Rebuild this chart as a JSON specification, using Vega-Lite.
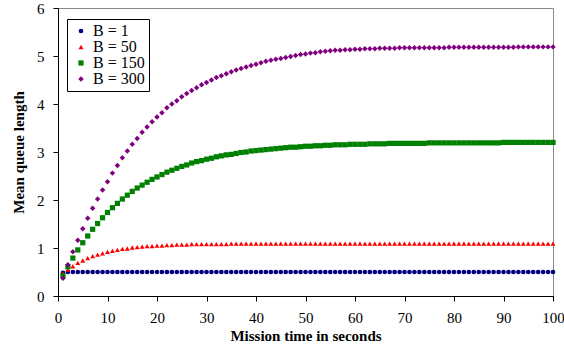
{
"$schema": "https://vega.github.io/schema/vega-lite/v6.json",
"autosize": {"type": "none"},
"padding": {"left": 58, "top": 8, "right": 11, "bottom": 55},
"width": 495,
"height": 288,
"background": "white",
"config": {"view": {"stroke": "#8a8a8a", "strokeWidth": 1}, "font": "Liberation Serif"},
"data": {"values": [
{"t":1,"B":"B = 1","q":0.48},{"t":2,"B":"B = 1","q":0.5},{"t":3,"B":"B = 1","q":0.5},{"t":4,"B":"B = 1","q":0.5},{"t":5,"B":"B = 1","q":0.5},{"t":6,"B":"B = 1","q":0.5},{"t":7,"B":"B = 1","q":0.5},{"t":8,"B":"B = 1","q":0.5},{"t":9,"B":"B = 1","q":0.5},{"t":10,"B":"B = 1","q":0.5},
{"t":11,"B":"B = 1","q":0.5},{"t":12,"B":"B = 1","q":0.5},{"t":13,"B":"B = 1","q":0.5},{"t":14,"B":"B = 1","q":0.5},{"t":15,"B":"B = 1","q":0.5},{"t":16,"B":"B = 1","q":0.5},{"t":17,"B":"B = 1","q":0.5},{"t":18,"B":"B = 1","q":0.5},{"t":19,"B":"B = 1","q":0.5},{"t":20,"B":"B = 1","q":0.5},
{"t":21,"B":"B = 1","q":0.5},{"t":22,"B":"B = 1","q":0.5},{"t":23,"B":"B = 1","q":0.5},{"t":24,"B":"B = 1","q":0.5},{"t":25,"B":"B = 1","q":0.5},{"t":26,"B":"B = 1","q":0.5},{"t":27,"B":"B = 1","q":0.5},{"t":28,"B":"B = 1","q":0.5},{"t":29,"B":"B = 1","q":0.5},{"t":30,"B":"B = 1","q":0.5},
{"t":31,"B":"B = 1","q":0.5},{"t":32,"B":"B = 1","q":0.5},{"t":33,"B":"B = 1","q":0.5},{"t":34,"B":"B = 1","q":0.5},{"t":35,"B":"B = 1","q":0.5},{"t":36,"B":"B = 1","q":0.5},{"t":37,"B":"B = 1","q":0.5},{"t":38,"B":"B = 1","q":0.5},{"t":39,"B":"B = 1","q":0.5},{"t":40,"B":"B = 1","q":0.5},
{"t":41,"B":"B = 1","q":0.5},{"t":42,"B":"B = 1","q":0.5},{"t":43,"B":"B = 1","q":0.5},{"t":44,"B":"B = 1","q":0.5},{"t":45,"B":"B = 1","q":0.5},{"t":46,"B":"B = 1","q":0.5},{"t":47,"B":"B = 1","q":0.5},{"t":48,"B":"B = 1","q":0.5},{"t":49,"B":"B = 1","q":0.5},{"t":50,"B":"B = 1","q":0.5},
{"t":51,"B":"B = 1","q":0.5},{"t":52,"B":"B = 1","q":0.5},{"t":53,"B":"B = 1","q":0.5},{"t":54,"B":"B = 1","q":0.5},{"t":55,"B":"B = 1","q":0.5},{"t":56,"B":"B = 1","q":0.5},{"t":57,"B":"B = 1","q":0.5},{"t":58,"B":"B = 1","q":0.5},{"t":59,"B":"B = 1","q":0.5},{"t":60,"B":"B = 1","q":0.5},
{"t":61,"B":"B = 1","q":0.5},{"t":62,"B":"B = 1","q":0.5},{"t":63,"B":"B = 1","q":0.5},{"t":64,"B":"B = 1","q":0.5},{"t":65,"B":"B = 1","q":0.5},{"t":66,"B":"B = 1","q":0.5},{"t":67,"B":"B = 1","q":0.5},{"t":68,"B":"B = 1","q":0.5},{"t":69,"B":"B = 1","q":0.5},{"t":70,"B":"B = 1","q":0.5},
{"t":71,"B":"B = 1","q":0.5},{"t":72,"B":"B = 1","q":0.5},{"t":73,"B":"B = 1","q":0.5},{"t":74,"B":"B = 1","q":0.5},{"t":75,"B":"B = 1","q":0.5},{"t":76,"B":"B = 1","q":0.5},{"t":77,"B":"B = 1","q":0.5},{"t":78,"B":"B = 1","q":0.5},{"t":79,"B":"B = 1","q":0.5},{"t":80,"B":"B = 1","q":0.5},
{"t":81,"B":"B = 1","q":0.5},{"t":82,"B":"B = 1","q":0.5},{"t":83,"B":"B = 1","q":0.5},{"t":84,"B":"B = 1","q":0.5},{"t":85,"B":"B = 1","q":0.5},{"t":86,"B":"B = 1","q":0.5},{"t":87,"B":"B = 1","q":0.5},{"t":88,"B":"B = 1","q":0.5},{"t":89,"B":"B = 1","q":0.5},{"t":90,"B":"B = 1","q":0.5},
{"t":91,"B":"B = 1","q":0.5},{"t":92,"B":"B = 1","q":0.5},{"t":93,"B":"B = 1","q":0.5},{"t":94,"B":"B = 1","q":0.5},{"t":95,"B":"B = 1","q":0.5},{"t":96,"B":"B = 1","q":0.5},{"t":97,"B":"B = 1","q":0.5},{"t":98,"B":"B = 1","q":0.5},{"t":99,"B":"B = 1","q":0.5},{"t":100,"B":"B = 1","q":0.5},
{"t":1,"B":"B = 50","q":0.47},{"t":2,"B":"B = 50","q":0.55},{"t":3,"B":"B = 50","q":0.62},{"t":4,"B":"B = 50","q":0.69},{"t":5,"B":"B = 50","q":0.74},{"t":6,"B":"B = 50","q":0.79},{"t":7,"B":"B = 50","q":0.83},{"t":8,"B":"B = 50","q":0.86},{"t":9,"B":"B = 50","q":0.89},{"t":10,"B":"B = 50","q":0.92},
{"t":11,"B":"B = 50","q":0.94},{"t":12,"B":"B = 50","q":0.96},{"t":13,"B":"B = 50","q":0.98},{"t":14,"B":"B = 50","q":0.99},{"t":15,"B":"B = 50","q":1.01},{"t":16,"B":"B = 50","q":1.02},{"t":17,"B":"B = 50","q":1.03},{"t":18,"B":"B = 50","q":1.04},{"t":19,"B":"B = 50","q":1.04},{"t":20,"B":"B = 50","q":1.05},
{"t":21,"B":"B = 50","q":1.05},{"t":22,"B":"B = 50","q":1.06},{"t":23,"B":"B = 50","q":1.06},{"t":24,"B":"B = 50","q":1.07},{"t":25,"B":"B = 50","q":1.07},{"t":26,"B":"B = 50","q":1.07},{"t":27,"B":"B = 50","q":1.08},{"t":28,"B":"B = 50","q":1.08},{"t":29,"B":"B = 50","q":1.08},{"t":30,"B":"B = 50","q":1.08},
{"t":31,"B":"B = 50","q":1.08},{"t":32,"B":"B = 50","q":1.08},{"t":33,"B":"B = 50","q":1.08},{"t":34,"B":"B = 50","q":1.08},{"t":35,"B":"B = 50","q":1.09},{"t":36,"B":"B = 50","q":1.09},{"t":37,"B":"B = 50","q":1.09},{"t":38,"B":"B = 50","q":1.09},{"t":39,"B":"B = 50","q":1.09},{"t":40,"B":"B = 50","q":1.09},
{"t":41,"B":"B = 50","q":1.09},{"t":42,"B":"B = 50","q":1.09},{"t":43,"B":"B = 50","q":1.09},{"t":44,"B":"B = 50","q":1.09},{"t":45,"B":"B = 50","q":1.09},{"t":46,"B":"B = 50","q":1.09},{"t":47,"B":"B = 50","q":1.09},{"t":48,"B":"B = 50","q":1.09},{"t":49,"B":"B = 50","q":1.09},{"t":50,"B":"B = 50","q":1.09},
{"t":51,"B":"B = 50","q":1.09},{"t":52,"B":"B = 50","q":1.09},{"t":53,"B":"B = 50","q":1.09},{"t":54,"B":"B = 50","q":1.09},{"t":55,"B":"B = 50","q":1.09},{"t":56,"B":"B = 50","q":1.09},{"t":57,"B":"B = 50","q":1.09},{"t":58,"B":"B = 50","q":1.09},{"t":59,"B":"B = 50","q":1.09},{"t":60,"B":"B = 50","q":1.09},
{"t":61,"B":"B = 50","q":1.09},{"t":62,"B":"B = 50","q":1.09},{"t":63,"B":"B = 50","q":1.09},{"t":64,"B":"B = 50","q":1.09},{"t":65,"B":"B = 50","q":1.09},{"t":66,"B":"B = 50","q":1.09},{"t":67,"B":"B = 50","q":1.09},{"t":68,"B":"B = 50","q":1.09},{"t":69,"B":"B = 50","q":1.09},{"t":70,"B":"B = 50","q":1.09},
{"t":71,"B":"B = 50","q":1.09},{"t":72,"B":"B = 50","q":1.09},{"t":73,"B":"B = 50","q":1.09},{"t":74,"B":"B = 50","q":1.09},{"t":75,"B":"B = 50","q":1.09},{"t":76,"B":"B = 50","q":1.09},{"t":77,"B":"B = 50","q":1.09},{"t":78,"B":"B = 50","q":1.09},{"t":79,"B":"B = 50","q":1.09},{"t":80,"B":"B = 50","q":1.09},
{"t":81,"B":"B = 50","q":1.09},{"t":82,"B":"B = 50","q":1.09},{"t":83,"B":"B = 50","q":1.09},{"t":84,"B":"B = 50","q":1.09},{"t":85,"B":"B = 50","q":1.09},{"t":86,"B":"B = 50","q":1.09},{"t":87,"B":"B = 50","q":1.09},{"t":88,"B":"B = 50","q":1.09},{"t":89,"B":"B = 50","q":1.09},{"t":90,"B":"B = 50","q":1.09},
{"t":91,"B":"B = 50","q":1.09},{"t":92,"B":"B = 50","q":1.09},{"t":93,"B":"B = 50","q":1.09},{"t":94,"B":"B = 50","q":1.09},{"t":95,"B":"B = 50","q":1.09},{"t":96,"B":"B = 50","q":1.09},{"t":97,"B":"B = 50","q":1.09},{"t":98,"B":"B = 50","q":1.09},{"t":99,"B":"B = 50","q":1.09},{"t":100,"B":"B = 50","q":1.09},
{"t":1,"B":"B = 150","q":0.42},{"t":2,"B":"B = 150","q":0.61},{"t":3,"B":"B = 150","q":0.79},{"t":4,"B":"B = 150","q":0.96},{"t":5,"B":"B = 150","q":1.11},{"t":6,"B":"B = 150","q":1.25},{"t":7,"B":"B = 150","q":1.39},{"t":8,"B":"B = 150","q":1.51},{"t":9,"B":"B = 150","q":1.63},{"t":10,"B":"B = 150","q":1.74},
{"t":11,"B":"B = 150","q":1.84},{"t":12,"B":"B = 150","q":1.93},{"t":13,"B":"B = 150","q":2.02},{"t":14,"B":"B = 150","q":2.10},{"t":15,"B":"B = 150","q":2.18},{"t":16,"B":"B = 150","q":2.25},{"t":17,"B":"B = 150","q":2.31},{"t":18,"B":"B = 150","q":2.37},{"t":19,"B":"B = 150","q":2.43},{"t":20,"B":"B = 150","q":2.48},
{"t":21,"B":"B = 150","q":2.53},{"t":22,"B":"B = 150","q":2.58},{"t":23,"B":"B = 150","q":2.62},{"t":24,"B":"B = 150","q":2.66},{"t":25,"B":"B = 150","q":2.70},{"t":26,"B":"B = 150","q":2.73},{"t":27,"B":"B = 150","q":2.77},{"t":28,"B":"B = 150","q":2.80},{"t":29,"B":"B = 150","q":2.82},{"t":30,"B":"B = 150","q":2.85},
{"t":31,"B":"B = 150","q":2.87},{"t":32,"B":"B = 150","q":2.90},{"t":33,"B":"B = 150","q":2.92},{"t":34,"B":"B = 150","q":2.94},{"t":35,"B":"B = 150","q":2.95},{"t":36,"B":"B = 150","q":2.97},{"t":37,"B":"B = 150","q":2.99},{"t":38,"B":"B = 150","q":3.00},{"t":39,"B":"B = 150","q":3.02},{"t":40,"B":"B = 150","q":3.03},
{"t":41,"B":"B = 150","q":3.04},{"t":42,"B":"B = 150","q":3.05},{"t":43,"B":"B = 150","q":3.06},{"t":44,"B":"B = 150","q":3.07},{"t":45,"B":"B = 150","q":3.08},{"t":46,"B":"B = 150","q":3.09},{"t":47,"B":"B = 150","q":3.10},{"t":48,"B":"B = 150","q":3.10},{"t":49,"B":"B = 150","q":3.11},{"t":50,"B":"B = 150","q":3.12},
{"t":51,"B":"B = 150","q":3.12},{"t":52,"B":"B = 150","q":3.13},{"t":53,"B":"B = 150","q":3.13},{"t":54,"B":"B = 150","q":3.14},{"t":55,"B":"B = 150","q":3.14},{"t":56,"B":"B = 150","q":3.15},{"t":57,"B":"B = 150","q":3.15},{"t":58,"B":"B = 150","q":3.15},{"t":59,"B":"B = 150","q":3.16},{"t":60,"B":"B = 150","q":3.16},
{"t":61,"B":"B = 150","q":3.16},{"t":62,"B":"B = 150","q":3.16},{"t":63,"B":"B = 150","q":3.17},{"t":64,"B":"B = 150","q":3.17},{"t":65,"B":"B = 150","q":3.17},{"t":66,"B":"B = 150","q":3.17},{"t":67,"B":"B = 150","q":3.18},{"t":68,"B":"B = 150","q":3.18},{"t":69,"B":"B = 150","q":3.18},{"t":70,"B":"B = 150","q":3.18},
{"t":71,"B":"B = 150","q":3.18},{"t":72,"B":"B = 150","q":3.18},{"t":73,"B":"B = 150","q":3.18},{"t":74,"B":"B = 150","q":3.18},{"t":75,"B":"B = 150","q":3.19},{"t":76,"B":"B = 150","q":3.19},{"t":77,"B":"B = 150","q":3.19},{"t":78,"B":"B = 150","q":3.19},{"t":79,"B":"B = 150","q":3.19},{"t":80,"B":"B = 150","q":3.19},
{"t":81,"B":"B = 150","q":3.19},{"t":82,"B":"B = 150","q":3.19},{"t":83,"B":"B = 150","q":3.19},{"t":84,"B":"B = 150","q":3.19},{"t":85,"B":"B = 150","q":3.19},{"t":86,"B":"B = 150","q":3.19},{"t":87,"B":"B = 150","q":3.19},{"t":88,"B":"B = 150","q":3.19},{"t":89,"B":"B = 150","q":3.19},{"t":90,"B":"B = 150","q":3.20},
{"t":91,"B":"B = 150","q":3.20},{"t":92,"B":"B = 150","q":3.20},{"t":93,"B":"B = 150","q":3.20},{"t":94,"B":"B = 150","q":3.20},{"t":95,"B":"B = 150","q":3.20},{"t":96,"B":"B = 150","q":3.20},{"t":97,"B":"B = 150","q":3.20},{"t":98,"B":"B = 150","q":3.20},{"t":99,"B":"B = 150","q":3.20},{"t":100,"B":"B = 150","q":3.20},
{"t":1,"B":"B = 300","q":0.37},{"t":2,"B":"B = 300","q":0.65},{"t":3,"B":"B = 300","q":0.92},{"t":4,"B":"B = 300","q":1.16},{"t":5,"B":"B = 300","q":1.40},{"t":6,"B":"B = 300","q":1.62},{"t":7,"B":"B = 300","q":1.83},{"t":8,"B":"B = 300","q":2.02},{"t":9,"B":"B = 300","q":2.21},{"t":10,"B":"B = 300","q":2.38},
{"t":11,"B":"B = 300","q":2.56},{"t":12,"B":"B = 300","q":2.72},{"t":13,"B":"B = 300","q":2.88},{"t":14,"B":"B = 300","q":3.02},{"t":15,"B":"B = 300","q":3.16},{"t":16,"B":"B = 300","q":3.28},{"t":17,"B":"B = 300","q":3.41},{"t":18,"B":"B = 300","q":3.52},{"t":19,"B":"B = 300","q":3.63},{"t":20,"B":"B = 300","q":3.73},
{"t":21,"B":"B = 300","q":3.82},{"t":22,"B":"B = 300","q":3.92},{"t":23,"B":"B = 300","q":4.00},{"t":24,"B":"B = 300","q":4.07},{"t":25,"B":"B = 300","q":4.15},{"t":26,"B":"B = 300","q":4.22},{"t":27,"B":"B = 300","q":4.28},{"t":28,"B":"B = 300","q":4.34},{"t":29,"B":"B = 300","q":4.40},{"t":30,"B":"B = 300","q":4.45},
{"t":31,"B":"B = 300","q":4.50},{"t":32,"B":"B = 300","q":4.55},{"t":33,"B":"B = 300","q":4.59},{"t":34,"B":"B = 300","q":4.63},{"t":35,"B":"B = 300","q":4.67},{"t":36,"B":"B = 300","q":4.71},{"t":37,"B":"B = 300","q":4.74},{"t":38,"B":"B = 300","q":4.77},{"t":39,"B":"B = 300","q":4.80},{"t":40,"B":"B = 300","q":4.83},
{"t":41,"B":"B = 300","q":4.86},{"t":42,"B":"B = 300","q":4.89},{"t":43,"B":"B = 300","q":4.91},{"t":44,"B":"B = 300","q":4.93},{"t":45,"B":"B = 300","q":4.95},{"t":46,"B":"B = 300","q":4.97},{"t":47,"B":"B = 300","q":4.99},{"t":48,"B":"B = 300","q":5.01},{"t":49,"B":"B = 300","q":5.03},{"t":50,"B":"B = 300","q":5.04},
{"t":51,"B":"B = 300","q":5.06},{"t":52,"B":"B = 300","q":5.07},{"t":53,"B":"B = 300","q":5.09},{"t":54,"B":"B = 300","q":5.10},{"t":55,"B":"B = 300","q":5.11},{"t":56,"B":"B = 300","q":5.12},{"t":57,"B":"B = 300","q":5.12},{"t":58,"B":"B = 300","q":5.13},{"t":59,"B":"B = 300","q":5.13},{"t":60,"B":"B = 300","q":5.14},
{"t":61,"B":"B = 300","q":5.14},{"t":62,"B":"B = 300","q":5.15},{"t":63,"B":"B = 300","q":5.15},{"t":64,"B":"B = 300","q":5.15},{"t":65,"B":"B = 300","q":5.16},{"t":66,"B":"B = 300","q":5.16},{"t":67,"B":"B = 300","q":5.16},{"t":68,"B":"B = 300","q":5.16},{"t":69,"B":"B = 300","q":5.17},{"t":70,"B":"B = 300","q":5.17},
{"t":71,"B":"B = 300","q":5.17},{"t":72,"B":"B = 300","q":5.17},{"t":73,"B":"B = 300","q":5.17},{"t":74,"B":"B = 300","q":5.17},{"t":75,"B":"B = 300","q":5.17},{"t":76,"B":"B = 300","q":5.17},{"t":77,"B":"B = 300","q":5.17},{"t":78,"B":"B = 300","q":5.17},{"t":79,"B":"B = 300","q":5.18},{"t":80,"B":"B = 300","q":5.18},
{"t":81,"B":"B = 300","q":5.18},{"t":82,"B":"B = 300","q":5.18},{"t":83,"B":"B = 300","q":5.18},{"t":84,"B":"B = 300","q":5.18},{"t":85,"B":"B = 300","q":5.18},{"t":86,"B":"B = 300","q":5.18},{"t":87,"B":"B = 300","q":5.18},{"t":88,"B":"B = 300","q":5.18},{"t":89,"B":"B = 300","q":5.18},{"t":90,"B":"B = 300","q":5.18},
{"t":91,"B":"B = 300","q":5.18},{"t":92,"B":"B = 300","q":5.18},{"t":93,"B":"B = 300","q":5.19},{"t":94,"B":"B = 300","q":5.19},{"t":95,"B":"B = 300","q":5.19},{"t":96,"B":"B = 300","q":5.19},{"t":97,"B":"B = 300","q":5.19},{"t":98,"B":"B = 300","q":5.19},{"t":99,"B":"B = 300","q":5.19},{"t":100,"B":"B = 300","q":5.19}
]},
"mark": {"type": "point", "filled": true, "opacity": 1},
"encoding": {
"x": {"field": "t", "type": "quantitative",
 "scale": {"domain": [0, 100], "nice": false, "zero": false},
 "axis": {"values": [0,10,20,30,40,50,60,70,80,90,100], "grid": false, "title": "Mission time in seconds",
  "domainColor": "black", "tickColor": "black", "tickSize": 5, "labelPadding": 9,
  "labelFont": "Liberation Serif", "labelFontSize": 15, "labelColor": "black", "labelFlush": false,
  "titleFont": "Liberation Serif", "titleFontSize": 15, "titleFontWeight": "bold", "titleColor": "black", "titlePadding": 3}},
"y": {"field": "q", "type": "quantitative",
 "scale": {"domain": [0, 6], "nice": false},
 "axis": {"values": [0,1,2,3,4,5,6], "grid": false, "title": "Mean queue length",
  "domainColor": "black", "tickColor": "black", "tickSize": 5, "labelPadding": 9,
  "labelFont": "Liberation Serif", "labelFontSize": 15, "labelColor": "black",
  "titleFont": "Liberation Serif", "titleFontSize": 15, "titleFontWeight": "bold", "titleColor": "black", "titlePadding": 10}},
"color": {"field": "B", "type": "nominal",
 "scale": {"domain": ["B = 1", "B = 50", "B = 150", "B = 300"], "range": ["#000080", "#ff0000", "#008000", "#800080"]},
 "legend": {"orient": "none", "legendX": 9, "legendY": 11, "title": null,
  "strokeColor": "black", "fillColor": "white", "padding": 4, "rowPadding": 0, "symbolOffset": 2,
  "labelFont": "Liberation Serif", "labelFontSize": 16, "labelColor": "black", "labelOffset": 4, "symbolStrokeWidth": 0}},
"shape": {"field": "B", "type": "nominal",
 "scale": {"domain": ["B = 1", "B = 50", "B = 150", "B = 300"], "range": ["circle", "triangle-up", "square", "diamond"]}},
"size": {"field": "B", "type": "nominal",
 "scale": {"domain": ["B = 1", "B = 50", "B = 150", "B = 300"], "range": [22, 30, 36, 40]}}
}
}
